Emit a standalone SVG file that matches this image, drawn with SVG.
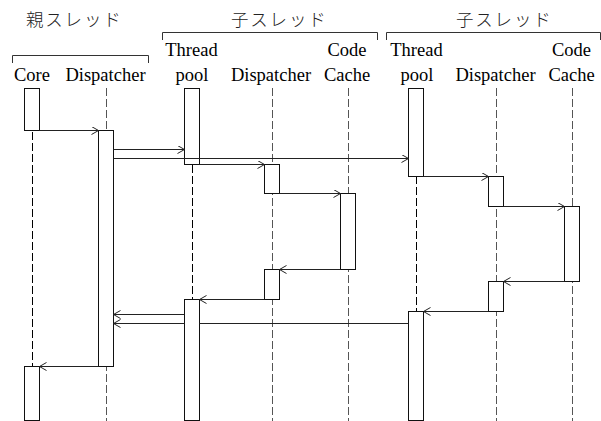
<svg xmlns="http://www.w3.org/2000/svg" width="601" height="421" viewBox="0 0 601 421">
<defs>
<style>
.lbl{font-family:"Liberation Serif","Times New Roman",serif;font-size:18.5px;fill:#000;text-anchor:middle}
.jp{font-family:"Noto Sans CJK JP",sans-serif;font-size:17.5px;font-weight:300;fill:#222;letter-spacing:1.8px}
.br{fill:none;stroke:#333;stroke-width:1}
.life{fill:none;stroke:#000;stroke-width:1;stroke-dasharray:8 3}
.life.g{stroke:#555}
.act{fill:#fff;stroke:#111;stroke-width:1}
.msg{fill:none;stroke:#222;stroke-width:1;marker-end:url(#arr)}
.seg{fill:none;stroke:#222;stroke-width:1}
</style>
<marker id="arr" markerWidth="10" markerHeight="10" refX="8" refY="4" orient="auto" markerUnits="userSpaceOnUse">
<path d="M1,0 L8,4 L1,8" fill="none" stroke="#222" stroke-width="1"/>
</marker>
</defs>
<rect width="601" height="421" fill="#fff"/>

<g id="groups">
<text class="jp" x="26" y="26">親スレッド</text>
<path class="br" d="M12.5,63 V55.5 H148.5 V63"/>
<text class="jp" x="231" y="26">子スレッド</text>
<path class="br" d="M162.5,40 V32.5 H377.5 V40"/>
<text class="jp" x="456" y="26">子スレッド</text>
<path class="br" d="M386.5,40 V32.5 H600.5 V40"/>
</g>

<g id="core">
<text class="lbl" x="32" y="80.5">Core</text>
<line class="life" x1="32.5" y1="88" x2="32.5" y2="421"/>
<rect class="act" x="24.5" y="88.5" width="15" height="42"/>
<rect class="act" x="24.5" y="366.5" width="15" height="54"/>
</g>

<g id="dispatcher">
<text class="lbl" x="105.5" y="80.5">Dispatcher</text>
<line class="life g" x1="106.5" y1="88" x2="106.5" y2="421"/>
<rect class="act" x="98.5" y="130.5" width="15" height="236"/>
</g>

<g id="threadpool1">
<text class="lbl" x="191.5" y="56">Thread</text>
<text class="lbl" x="192" y="80.5">pool</text>
<line class="life" x1="192.5" y1="88" x2="192.5" y2="421"/>
<rect class="act" x="184.5" y="88.5" width="15" height="76"/>
<rect class="act" x="184.5" y="299.5" width="15" height="121"/>
</g>

<g id="dispatcher1">
<text class="lbl" x="271" y="80.5">Dispatcher</text>
<line class="life g" x1="272.5" y1="88" x2="272.5" y2="421"/>
<rect class="act" x="264.5" y="164.5" width="15" height="29"/>
<rect class="act" x="264.5" y="269.5" width="15" height="30"/>
</g>

<g id="codecache1">
<text class="lbl" x="347" y="56">Code</text>
<text class="lbl" x="347" y="80.5">Cache</text>
<line class="life g" x1="348.5" y1="88" x2="348.5" y2="421"/>
<rect class="act" x="340.5" y="193.5" width="15" height="76"/>
</g>

<g id="threadpool2">
<text class="lbl" x="416.5" y="56">Thread</text>
<text class="lbl" x="417" y="80.5">pool</text>
<line class="life" x1="416.5" y1="88" x2="416.5" y2="421"/>
<rect class="act" x="408.5" y="88.5" width="15" height="88"/>
<rect class="act" x="408.5" y="311.5" width="15" height="109"/>
</g>

<g id="dispatcher2">
<text class="lbl" x="495.5" y="80.5">Dispatcher</text>
<line class="life g" x1="496.5" y1="88" x2="496.5" y2="421"/>
<rect class="act" x="488.5" y="176.5" width="15" height="30"/>
<rect class="act" x="488.5" y="281.5" width="15" height="30"/>
</g>

<g id="codecache2">
<text class="lbl" x="571.5" y="56">Code</text>
<text class="lbl" x="571.5" y="80.5">Cache</text>
<line class="life g" x1="572.5" y1="88" x2="572.5" y2="421"/>
<rect class="act" x="564.5" y="206.5" width="15" height="75"/>
</g>

<g id="connectors">
<line class="msg" x1="39.5" y1="130.5" x2="98.5" y2="130.5"/>
<line class="msg" x1="113.5" y1="149.5" x2="184.5" y2="149.5"/>
<line class="msg" x1="113.5" y1="158.5" x2="408.5" y2="158.5"/>
<line class="msg" x1="199.5" y1="164.5" x2="264.5" y2="164.5"/>
<line class="msg" x1="279.5" y1="193.5" x2="340.5" y2="193.5"/>
<line class="msg" x1="340.5" y1="269.5" x2="279.5" y2="269.5"/>
<line class="msg" x1="264.5" y1="299.5" x2="199.5" y2="299.5"/>
<line class="msg" x1="423.5" y1="176.5" x2="488.5" y2="176.5"/>
<line class="msg" x1="503.5" y1="206.5" x2="564.5" y2="206.5"/>
<line class="msg" x1="564.5" y1="281.5" x2="503.5" y2="281.5"/>
<line class="msg" x1="488.5" y1="311.5" x2="423.5" y2="311.5"/>
<line class="msg" x1="184.5" y1="314.5" x2="113.5" y2="314.5"/>
<line class="seg" x1="408.5" y1="323.5" x2="199.5" y2="323.5"/>
<line class="msg" x1="184.5" y1="323.5" x2="113.5" y2="323.5"/>
<line class="msg" x1="98.5" y1="366.5" x2="39.5" y2="366.5"/>
</g>
</svg>
